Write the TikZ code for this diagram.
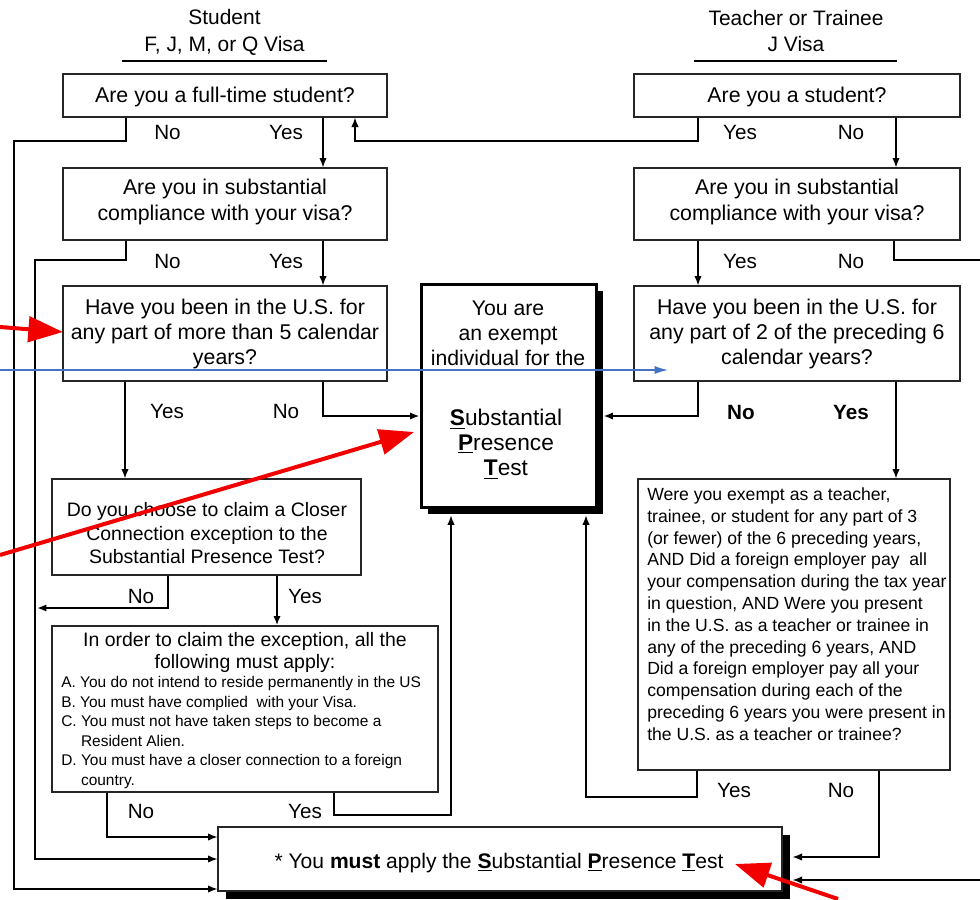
\documentclass[tikz,border=0pt]{standalone}
\usepackage{fontspec}
\setmainfont{Liberation Sans}
\usetikzlibrary{arrows.meta,shadows,calc}
\definecolor{annblue}{HTML}{4472C4}
\definecolor{annred}{HTML}{F20000}
\begin{document}
\begin{tikzpicture}[x=0.75pt,y=-0.75pt,
  wh/.style 2 args={minimum width={#1*0.75pt},minimum height={#2*0.75pt}},
  box/.style={draw=black!85,line width=1pt,fill=white,inner sep=0pt,align=center,font=\fontsize{16}{19.5}\selectfont},
  ln/.style={line width=0.8pt},
  arr/.style={ln,-{Latex[length=7pt,width=5.5pt]}},
  thk/.style={line width=1.5pt},
  lbl/.style={inner sep=0pt,font=\fontsize{15.5}{18}\selectfont},
  hdr/.style={inner sep=0pt,align=center,font=\fontsize{15.7}{20.2}\selectfont},
  txt/.style={inner sep=0pt,align=center},
  redarr/.style={draw=annred,line width=3pt,-{Triangle[length=26pt,width=19pt]}},
  bluearr/.style={draw=annblue,line width=0.9pt,-{Latex[length=10pt,width=6pt]}},
]
\fill[white] (0,0) rectangle (980,899);
\useasboundingbox (0,0) rectangle (980,899);

% headers
\node[hdr] (hA) at (224.5,32) {Student\\F, J, M, or Q Visa};
\node[hdr] (hB) at (796,31) {Teacher or Trainee\\J Visa};
\draw[line width=0.8pt] (122,61) coordinate (uA1) -- (327,61) coordinate (uA2);
\draw[line width=0.8pt] (694,61) coordinate (uB1) -- (897,61) coordinate (uB2);

% boxes
\node[box,wh={324}{43}] (A1) at (225,95.5) {};
\node[txt,font=\fontsize{16}{19.5}\selectfont] (A1t) at (225,97) {Are you a full-time student?};
\node[box,wh={326}{43}] (B1) at (797,95.5) {};
\node[txt,font=\fontsize{16}{19.5}\selectfont] (B1t) at (797,97) {Are you a student?};
\node[box,wh={324}{72}] (A2) at (225,204) {};
\node[txt,font=\fontsize{16}{19.5}\selectfont] (A2t) at (225,202) {Are you in substantial\\compliance with your visa?};
\node[box,wh={326}{72}] (B2) at (797,204) {};
\node[txt,font=\fontsize{16}{19.5}\selectfont] (B2t) at (797,202) {Are you in substantial\\compliance with your visa?};
\node[box,wh={324}{95}] (A3) at (225,333.5) {};
\node[txt,font=\fontsize{16}{18.8}\selectfont] (A3t) at (225,334) {Have you been in the U.S. for\\any part of more than 5 calendar\\years?};
\node[box,wh={326}{95}] (B3) at (797,333.5) {};
\node[txt,font=\fontsize{16}{18.8}\selectfont] (B3t) at (797,334) {Have you been in the U.S. for\\any part of 2 of the preceding 6\\calendar years?};
\node[box,wh={309}{96}] (A4) at (206.5,527) {};
\node[txt,font=\fontsize{14.6}{17.6}\selectfont] (A4t) at (207,533.5) {Do you choose to claim a Closer\\Connection exception to the\\Substantial Presence Test?};
\node[box,wh={386}{166}] (A5) at (245,709) {};
\node[txt,font=\fontsize{14.6}{16.5}\selectfont] (A5h) at (245,652) {In order to claim the exception, all the\\following must apply:};
\node[inner sep=0pt,align=left,anchor=west,font=\fontsize{11.6}{14.6}\selectfont] (A5i) at (61,732.5) {A. You do not intend to reside permanently in the US\\B. You must have complied\ \ with your Visa.\\C. You must not have taken steps to become a\\\hphantom{C.~}Resident Alien.\\D. You must have a closer connection to a foreign\\\hphantom{D.~}country.};
\node[box,wh={312}{291}] (B4) at (794,624.5) {};
\node[inner sep=0pt,align=left,anchor=west,font=\fontsize{13.2}{16.35}\selectfont] (B4t) at (647,614) {Were you exempt as a teacher,\\trainee, or student for any part of 3\\(or fewer) of the 6 preceding years,\\AND Did a foreign employer pay\ \ all\\your compensation during the tax year\\in question, AND Were you present\\in the U.S. as a teacher or trainee in\\any of the preceding 6 years, AND\\Did a foreign employer pay all your\\compensation during each of the\\preceding 6 years you were present in\\the U.S. as a teacher or trainee?};

% exempt box
\node[draw=black,line width=2.25pt,fill=white,inner sep=0pt,wh={175}{223},
  drop shadow={shadow xshift=5pt,shadow yshift=-5pt,opacity=1,fill=black}] (C) at (508.5,395.5) {};
\node[txt,font=\fontsize{15.9}{18.8}\selectfont] (Ct) at (508,333) {You are\\an exempt\\individual for the};
\node[txt,font=\fontsize{17}{18.8}\selectfont] (Cb) at (506,444) {\textbf{\underline{S}}ubstantial\\\textbf{\underline{P}}resence\\\textbf{\underline{T}}est};
\coordinate (Cse) at ($(C.east)+(6,0)$);
\coordinate (Csb) at ($(C.south)+(0,7)$);

% bottom box
\node[draw=black!85,line width=1pt,fill=white,inner sep=0pt,wh={564}{64},
  drop shadow={shadow xshift=6pt,shadow yshift=-6pt,opacity=1,fill=black}] (bot) at (500,859) {};
\node[inner sep=0pt,font=\fontsize{15.8}{19}\selectfont] (bott) at (499,863) {* You \textbf{must} apply the \textbf{\underline{S}}ubstantial \textbf{\underline{P}}resence \textbf{\underline{T}}est};
\coordinate (bse) at ($(bot.east)+(10,0)$);

% free ends
\coordinate (eR1) at (980,260);
\coordinate (eR2) at (980,880);
\coordinate (nA4) at (37,608);

% connectors
\draw[arr] (A1.south -| 126,0) |- (14,141) |- (bot.west |- 0,889);
\draw[arr] (A1.south -| 323,0) -- (A2.north -| 323,0);
\draw[arr] (B1.south -| 698,0) |- (355,141) -- (A1.south -| 355,0);
\draw[arr] (B1.south -| 896,0) -- (B2.north -| 896,0);
\draw[arr] (A2.south -| 126,0) |- (35,260) |- (bot.west |- 0,859);
\draw[arr] (A2.south -| 323,0) -- (A3.north -| 323,0);
\draw[arr] (B2.south -| 698,0) -- (B3.north -| 698,0);
\draw[ln] (B2.south -| 894,0) |- (eR1);
\draw[arr] (A3.south -| 125,0) -- (A4.north -| 125,0);
\draw[arr,thk] (A3.south -| 323,0) |- (C.west |- 0,416);
\draw[arr,thk] (B3.south -| 698,0) |- (Cse |- 0,416);
\draw[arr] (B3.south -| 896,0) -- (B4.north -| 896,0);
\draw[arr,thk] (A4.south -| 168,0) |- (nA4);
\draw[arr,thk] (A4.south -| 277,0) -- (A5.north -| 277,0);
\draw[arr] (A5.south -| 107,0) |- (bot.west |- 0,837);
\draw[arr] (A5.south -| 334,0) |- (451,815) -- (Csb -| 451,0);
\draw[arr] (B4.south -| 697,0) |- (586,797) -- (Csb -| 586,0);
\draw[arr] (B4.south -| 879,0) |- (bse |- 0,857);
\draw[arr] (eR2) -- (bse |- 0,880);

% labels
\node[lbl] (l1) at (167.5,132) {No};
\node[lbl] (l2) at (286,132) {Yes};
\node[lbl] (l3) at (740,132) {Yes};
\node[lbl] (l4) at (851,132) {No};
\node[lbl] (l5) at (167.5,261) {No};
\node[lbl] (l6) at (286,261) {Yes};
\node[lbl] (l7) at (740,261) {Yes};
\node[lbl] (l8) at (851,261) {No};
\node[lbl] (l9) at (167,411) {Yes};
\node[lbl] (l10) at (286,411) {No};
\node[lbl,font=\bfseries\fontsize{15.5}{18}\selectfont] (l11) at (741,412) {No};
\node[lbl,font=\bfseries\fontsize{15.5}{18}\selectfont] (l12) at (851,412) {Yes};
\node[lbl] (l13) at (141,596) {No};
\node[lbl] (l14) at (305,596) {Yes};
\node[lbl] (l15) at (141,811) {No};
\node[lbl] (l16) at (305,811) {Yes};
\node[lbl] (l17) at (734,790) {Yes};
\node[lbl] (l18) at (841,790) {No};

% annotations
\coordinate (r1s) at (0,327);
\coordinate (r1e) at (63,332);
\coordinate (r2s) at (0,555);
\coordinate (r2e) at (414,432);
\coordinate (r3s) at (838,899);
\coordinate (r3e) at (735,864);
\coordinate (b1s) at (0,370);
\coordinate (b1e) at (668,370);
\draw[bluearr] (b1s) -- (b1e);
\draw[redarr] (r1s) -- (r1e);
\draw[redarr] (r2s) -- (r2e);
\draw[redarr] (r3s) -- (r3e);
\end{tikzpicture}
\end{document}
